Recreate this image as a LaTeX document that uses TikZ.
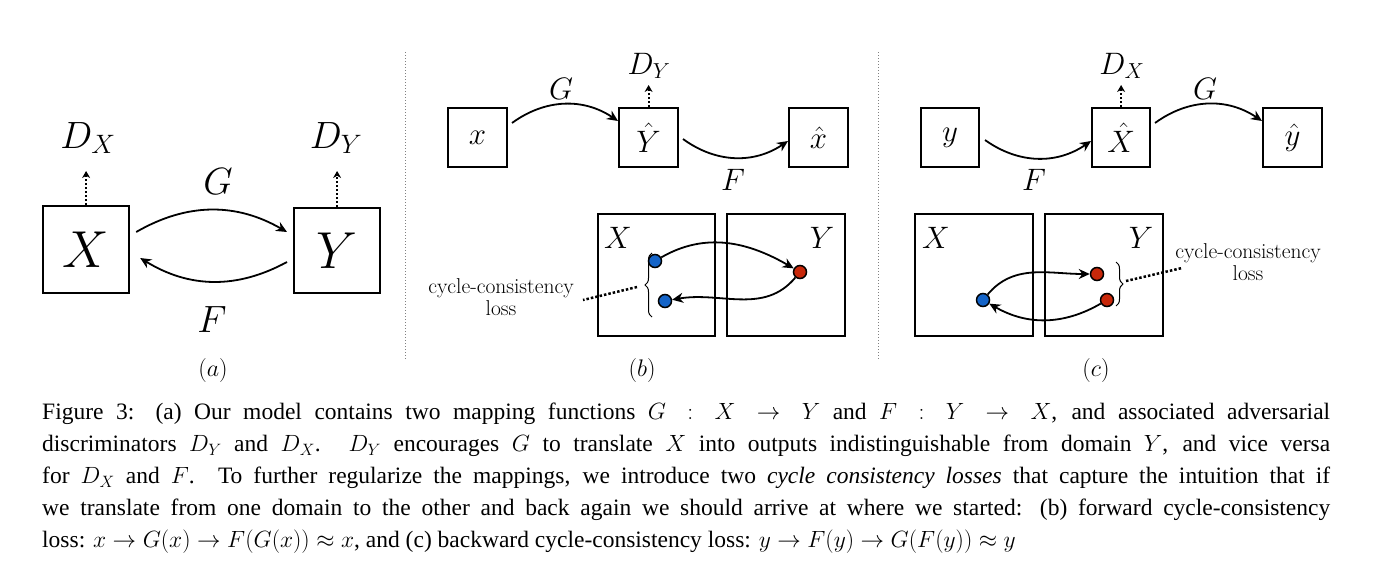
\RequirePackage{fix-cm}
\documentclass[tikz,border=0pt]{standalone}
\usepackage{fontspec}
\newfontfamily\capfont{Liberation Serif}
\usetikzlibrary{arrows.meta,decorations.pathreplacing}
\definecolor{dblue}{RGB}{20,100,200}
\definecolor{dred}{RGB}{200,40,10}
\begin{document}
\begin{tikzpicture}[x=1pt,y=-1pt,
  box/.style={draw,line width=2.2pt,inner sep=0,anchor=north west},
  arr/.style={line width=1.8pt,-{Stealth[length=11pt,width=10pt]}},
  dis/.style={line width=2pt,dotted,-{Stealth[length=7pt,width=8pt]}},
  sep/.style={gray,dotted,line width=1pt},
  big/.style={font=\fontsize{52}{56}\selectfont},
  med/.style={font=\fontsize{38}{42}\selectfont},
  sml/.style={font=\fontsize{31}{34}\selectfont},
  lbl/.style={font=\fontsize{24}{28}\selectfont},
  dot/.style={circle,draw,line width=1.5pt,minimum size=13pt,inner sep=0},
  brc/.style={decorate,decoration={brace,amplitude=7pt},line width=1pt},
  txt/.style={font=\fontsize{21.5}{22}\selectfont,align=center}]
\useasboundingbox (0,0) rectangle (1380,565);
\fill[white] (0,0) rectangle (1380,565);
% separators
\draw[sep] (405,52) -- (405,360);
\draw[sep] (878,52) -- (878,360);
% panel a
\node[box,minimum width=86pt,minimum height=87pt,big] (aX) at (42,205) {$X$};
\node[box,minimum width=86pt,minimum height=85pt,big] (aY) at (293,207) {$Y$};
\node[med] (aDX) at (88,138) {$D_X$};
\node[med] (aDY) at (336,138) {$D_Y$};
\draw[dis] (aX.north) -- ++(0,-34) coordinate (aXt);
\draw[dis] (aY.north) -- ++(0,-36) coordinate (aYt);
\draw[arr] ([xshift=6pt,yshift=-27pt]aX.north east) to[bend left=30] ([xshift=-6pt,yshift=-25pt]aY.north west);
\draw[arr] ([xshift=-6pt,yshift=-55pt]aY.north west) to[bend left=30] ([xshift=10pt,yshift=-53pt]aX.north east);
\node[med] (aG) at (218,182) {$G$};
\node[med] (aF) at (212,320) {$F$};
\node[lbl] (la) at (213,370) {$(a)$};
% panel b
\node[box,minimum width=59pt,minimum height=59pt,sml] (bx) at (447,107) {$x$};
\node[box,minimum width=59pt,minimum height=59pt,sml] (bY) at (618,107) {$\hat Y$};
\node[box,minimum width=59pt,minimum height=59pt,sml] (bxh) at (788,107) {$\hat x$};
\node[sml] (bD) at (649,66) {$D_Y$};
\draw[dis] (bY.north) -- ++(0,-22);
\draw[arr] (512,123) to[bend left=35] (bY.west|-0,121);
\draw[arr] (683,139) to[bend right=35] (bxh.west|-0,141);
\node[sml] (bG) at (561,89) {$G$};
\node[sml] (bF) at (733,180) {$F$};
\node[box,minimum width=117pt,minimum height=122pt] (bXb) at (597,213) {};
\node[box,minimum width=118pt,minimum height=122pt] (bYb) at (726,213) {};
\node[sml] at (618,238) {$X$};
\node[sml] at (822,238) {$Y$};
\node[dot,fill=dblue] (b1) at (655,261) {};
\node[dot,fill=dblue] (b2) at (665,301) {};
\node[dot,fill=dred] (b3) at (800,272) {};
\draw[arr] (b1) to[out=30,in=150] (b3);
\draw[arr] (b3) to[out=230,in=10] (b2);
\draw[brc] (652,317) -- (652,253) coordinate (bbr);
\coordinate (btip) at (637,287);
\draw[line width=2.5pt,dotted] (btip) -- (583,300);
\node[txt] (bt) at (501,297) {cycle-consistency\\loss};
\node[lbl] (lb) at (642,370) {$(b)$};
% panel c
\node[box,minimum width=58pt,minimum height=59pt,sml] (cy) at (920,107) {$y$};
\node[box,minimum width=58pt,minimum height=59pt,sml] (cX) at (1091,107) {$\hat X$};
\node[box,minimum width=59pt,minimum height=59pt,sml] (cyh) at (1262,107) {$\hat y$};
\node[sml] (cD) at (1122,66) {$D_X$};
\draw[dis] (cX.north) -- ++(0,-22);
\draw[arr] (985,140) to[bend right=35] (cX.west|-0,141);
\draw[arr] (1155,123) to[bend left=35] (cyh.west|-0,121);
\node[sml] (cF) at (1034,180) {$F$};
\node[sml] (cG) at (1205,89) {$G$};
\node[box,minimum width=118pt,minimum height=122pt] (cXb) at (914,213) {};
\node[box,minimum width=118pt,minimum height=122pt] (cYb) at (1044,213) {};
\node[sml] at (936,238) {$X$};
\node[sml] at (1141,238) {$Y$};
\node[dot,fill=dblue] (c1) at (983,300) {};
\node[dot,fill=dred] (c2) at (1097,274) {};
\node[dot,fill=dred] (c3) at (1107,300) {};
\draw[arr] (c1) to[out=50,in=180] (c2);
\draw[arr] (c3) to[out=210,in=330] (c1);
\draw[brc] (1116,262) -- (1116,306);
\draw[line width=2.5pt,dotted] (1126,281) -- (1182,268);
\node[txt] (ct) at (1248,262) {cycle-consistency\\loss};
\node[lbl] (lc) at (1096,370) {$(c)$};
% caption
\node[anchor=north west,inner sep=0,text width=1288pt,align=justify,
  font=\capfont\fontsize{23.5}{32}\selectfont] (cap) at (42,403) {%
Figure 3: (a) Our model contains two mapping functions $G : X \to Y$ and $F : Y \to X$, and associated adversarial\linebreak
discriminators $D_Y$ and $D_X$. $D_Y$ encourages $G$ to translate $X$ into outputs indistinguishable from domain $Y$, and vice versa\linebreak
for $D_X$ and $F$. To further regularize the mappings, we introduce two \textit{cycle consistency losses} that capture the intuition that if\linebreak
we translate from one domain to the other and back again we should arrive at where we started: (b) forward cycle-consistency\linebreak
loss: $x \to G(x) \to F(G(x)) \approx x$, and (c) backward cycle-consistency loss: $y \to F(y) \to G(F(y)) \approx y$\par};
\end{tikzpicture}
\end{document}
